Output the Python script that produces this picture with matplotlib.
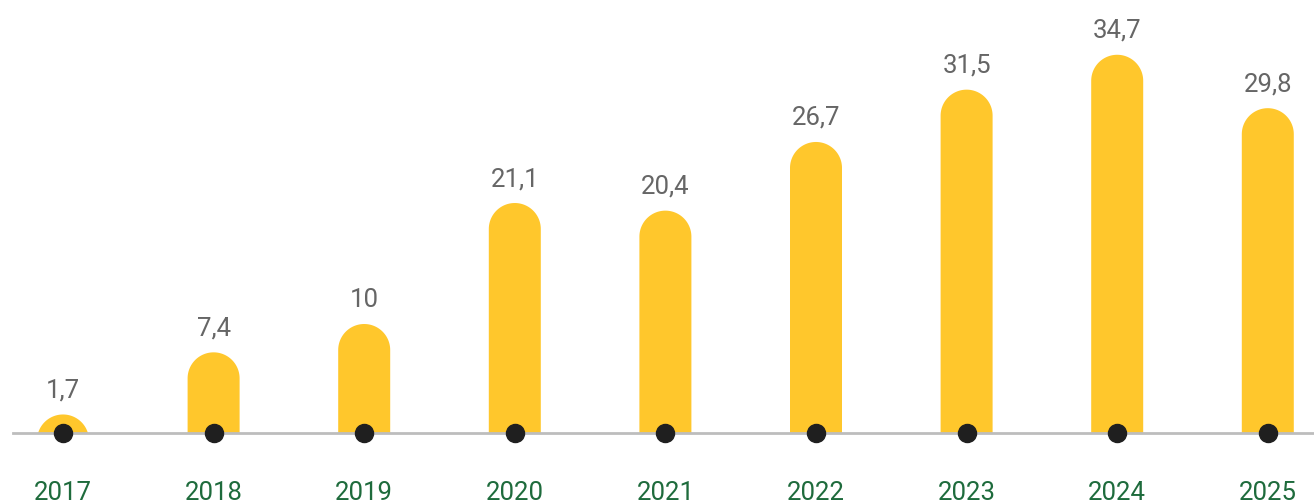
import numpy as np
import matplotlib.pyplot as plt
from matplotlib.patches import Rectangle, Polygon

years = ["2017", "2018", "2019", "2020", "2021", "2022", "2023", "2024", "2025"]
values = [1.7, 7.4, 10, 21.1, 20.4, 26.7, 31.5, 34.7, 29.8]
labels = ["1,7", "7,4", "10", "21,1", "20,4", "26,7", "31,5", "34,7", "29,8"]

YELLOW = "#FFC72C"
GREEN = "#1E6B3C"
GREY_TXT = "#666666"

plt.rcParams['font.family'] = ['Roboto', 'DejaVu Sans']

fig = plt.figure(figsize=(13.14, 5.04), dpi=100)
ax = fig.add_axes([0, 0, 1, 1])

# pixel geometry -> data units
step_px = 150.6
unit_px = 10.9
x0_px = 63
base_px = 71  # from bottom
ax.set_xlim(-x0_px / step_px, (1314 - x0_px) / step_px)
ax.set_ylim(-base_px / unit_px, (504 - base_px) / unit_px)
ax.axis("off")

bar_w = 52 / step_px
r_y = 26 / unit_px  # radius of the round top in value units
t = np.linspace(np.pi, 0, 60)

clip = Rectangle((-1, 0), 20, 100, transform=ax.transData)

for i, v in enumerate(values):
    # one outline per bar: straight sides + round top, cut at the baseline
    c = v - r_y
    y0 = min(0, c)
    xs = np.concatenate([[i - bar_w / 2], i + bar_w / 2 * np.cos(t), [i + bar_w / 2]])
    ys = np.concatenate([[y0], c + r_y * np.sin(t), [y0]])
    bar = Polygon(np.column_stack([xs, ys]), closed=True, facecolor=YELLOW,
                  edgecolor="none", zorder=2)
    ax.add_patch(bar)
    bar.set_clip_path(clip)
    ax.annotate(labels[i], (i, v), xytext=(0, 17), textcoords="offset pixels",
                ha="center", va="baseline", fontsize=18.5, color=GREY_TXT)
    ax.annotate(years[i], (i, 0), xytext=(0, -67), textcoords="offset pixels",
                ha="center", va="baseline", fontsize=18.5, color=GREEN)

ax.plot([-50 / step_px, 20], [0, 0], color="#BDBDBD", lw=2, zorder=3)
ax.plot(range(len(values)), [0] * len(values), "o", color="#1F1F1F",
        markersize=13, zorder=4)

fig.savefig("out.png", dpi=100)
